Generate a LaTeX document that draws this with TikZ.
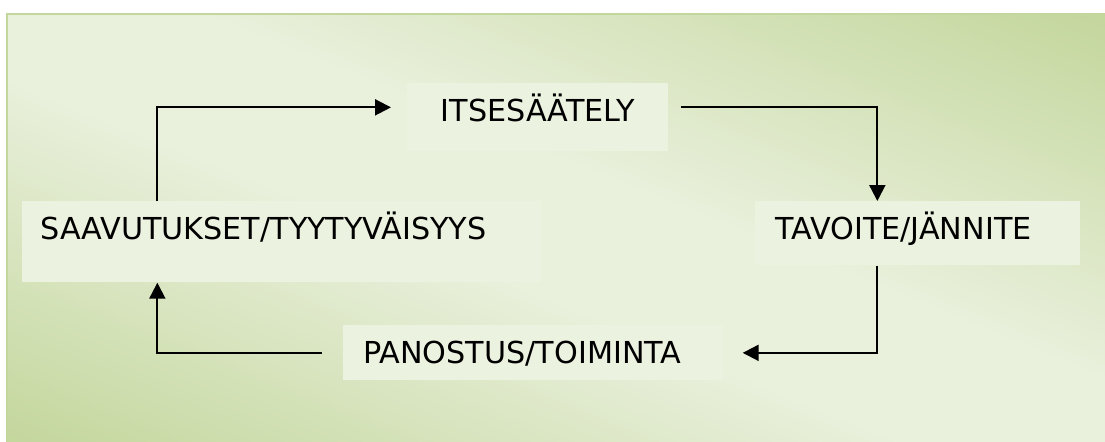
\documentclass[tikz,border=0pt]{standalone}
\usepackage{fontspec}
\setmainfont{DejaVu Sans}
\usetikzlibrary{positioning, arrows.meta}
\definecolor{olivedark}{HTML}{C3D69B}
\definecolor{olivelight}{HTML}{E9F0DC}
\definecolor{stagefill}{HTML}{EBF2DF}
\pgfdeclareverticalshading{oliveband}{100bp}{color(0bp)=(olivedark); color(25bp)=(olivedark);
  color(46bp)=(olivelight); color(54bp)=(olivelight); color(75bp)=(olivedark); color(100bp)=(olivedark)}

\tikzset{
  stage/.style={fill=stagefill, anchor=north west, inner xsep=0.4cm, inner ysep=0pt,
    text height=0.76cm, align=left, font=\fontsize{17.2}{20}\selectfont},
  flow/.style={line width=1.2pt, -{Triangle[length=0.32cm, width=0.32cm]}}
}

\begin{document}
\begin{tikzpicture}
    \useasboundingbox (0,0) rectangle (22.1,-8.82);
    \begin{scope}
      \clip (0.14,-0.28) rectangle (22.3,-9);
      \shade[shading=oliveband, transform canvas={rotate around={-22:(11.05,-4.55)}}]
        (-4.95,-12.75) rectangle (27.05,3.65);
    \end{scope}
    \draw[draw=olivedark, line width=1.2pt] (22.4,-0.28) -- (0.14,-0.28) -- (0.14,-9);

    \node[stage, text width=4.42cm, align=center, text depth=0.60cm] (selfreg) at (8.14,-1.66) {ITSESÄÄTELY};
    \node[stage, text width=5.7cm, text depth=0.52cm] (goal) at (15.10,-4.02) {TAVOITE/JÄNNITE};
    \node[stage, text width=9.66cm, inner xsep=0.36cm, text depth=0.86cm] (result) at (0.44,-4.02) {SAAVUTUKSET/TYYTYVÄISYYS};
    \node[stage, text width=6.8cm, text depth=0.34cm] (effort) at (6.86,-6.50) {PANOSTUS/TOIMINTA};

    \draw[flow] ([xshift=-2.49cm]result.north) |- ([xshift=-0.32cm, yshift=0.2cm]selfreg.west);
    \draw[flow] ([xshift=0.24cm, yshift=0.2cm]selfreg.east) -| ([xshift=-0.81cm]goal.north);
    \draw[flow] ([xshift=-0.81cm]goal.south) |- ([xshift=0.38cm]effort.east);
    \draw[flow] ([xshift=-0.42cm]effort.west) -| ([xshift=-2.49cm]result.south);
\end{tikzpicture}
\end{document}
